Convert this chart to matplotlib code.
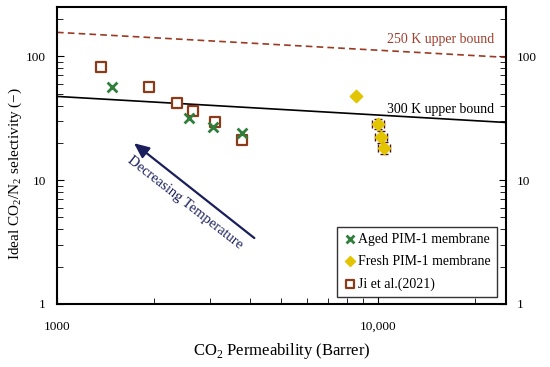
import matplotlib
matplotlib.use("Agg")
import matplotlib.pyplot as plt
from matplotlib.ticker import LogLocator, FixedLocator, NullFormatter, FuncFormatter

plt.rcParams['font.family'] = ['Liberation Serif', 'DejaVu Serif']
plt.rcParams['mathtext.fontset'] = 'custom'
plt.rcParams['mathtext.rm'] = 'Liberation Serif'

# Data
aged_x = [1482, 2571, 3051, 3756]
aged_y = [56, 32, 26.6, 23.8]

fresh_x = [8550, 9980, 10200, 10440]
fresh_y = [47.4, 28.6, 22.5, 18.3]
fresh_xerr = [0, 420, 420, 420]
fresh_yerr = [0, 2.6, 2.4, 2.0]

ji_x = [1370, 1931, 2360, 2643, 3115, 3756]
ji_y = [81.5, 56, 41.6, 35.9, 29.3, 20.9]

bound_x = [1000, 25000]
bound_300 = [47.4, 29.2]
bound_250 = [156, 98]

arrow_tail = (4180, 3.3)
arrow_head = (1710, 20.5)

fig = plt.figure(figsize=(5.5, 3.67), dpi=100)
ax = fig.add_axes([0.1036, 0.1717, 0.8164, 0.8093])
ax.set_xscale('log')
ax.set_yscale('log')
ax.set_xlim(1000, 25000)
ax.set_ylim(1, 250)

ax.plot(bound_x, bound_250, linestyle=(0, (4, 2.5)), color='#9b3a22', lw=1.2)
ax.plot(bound_x, bound_300, color='black', lw=1.2)
ax.text(23000, 136, '250 K upper bound', color='#a0402e', fontsize=10, ha='right', va='center')
ax.text(23000, 37.5, '300 K upper bound', color='black', fontsize=10, ha='right', va='center')

ax.errorbar(fresh_x, fresh_y, xerr=fresh_xerr, yerr=fresh_yerr, fmt='none',
            ecolor='#4a1010', elinewidth=1.0, capsize=3, capthick=1.0, zorder=2)
ax.scatter(fresh_x, fresh_y, marker='D', s=40, color='#e2c400', zorder=3,
           label='Fresh PIM-1 membrane')
ax.scatter(ji_x, ji_y, marker='s', s=50, facecolor='white', edgecolor='#8b3a1a',
           linewidths=1.6, zorder=4, label='Ji et al.(2021)')
ax.scatter(aged_x, aged_y, marker='x', s=50, color='#2f7f3a', linewidths=2.0,
           zorder=5, label='Aged PIM-1 membrane')

ax.annotate('', xy=arrow_head, xytext=arrow_tail,
            arrowprops=dict(arrowstyle='-|>,head_length=0.9,head_width=0.4',
                            color='#1a1f5c', lw=1.6))
ax.text(2497, 6.6, 'Decreasing Temperature', color='#1a1f5c', fontsize=10.5,
        rotation=-38, ha='center', va='center', rotation_mode='anchor')

handles, labels = ax.get_legend_handles_labels()
order = [labels.index('Aged PIM-1 membrane'), labels.index('Fresh PIM-1 membrane'),
         labels.index('Ji et al.(2021)')]
leg = ax.legend([handles[i] for i in order], [labels[i] for i in order],
                loc='lower right', bbox_to_anchor=(0.98, 0.024), borderaxespad=0,
                fontsize=10, frameon=True, fancybox=False, edgecolor='black',
                handletextpad=0.1, handlelength=1.0, borderpad=0.45,
                labelspacing=0.65, markerscale=0.8)
leg.get_frame().set_linewidth(1.0)

ax.set_xlabel('CO$_2$ Permeability (Barrer)', fontsize=12)
ax.xaxis.set_label_coords(0.5, -0.125)
ax.set_ylabel('Ideal CO$_2$/N$_2$ selectivity (−)', fontsize=11)
ax.yaxis.set_label_coords(-0.074, 0.44)

ax.xaxis.set_major_locator(FixedLocator([1000, 10000]))
ax.xaxis.set_major_formatter(FuncFormatter(lambda v, p: '{:,.0f}'.format(v) if v >= 10000 else '{:.0f}'.format(v)))
ax.xaxis.set_minor_locator(LogLocator(base=10, subs=range(2, 10)))
ax.xaxis.set_minor_formatter(NullFormatter())
ax.yaxis.set_major_locator(FixedLocator([1, 10, 100]))
ax.yaxis.set_major_formatter(FuncFormatter(lambda v, p: '{:.0f}'.format(v)))
ax.yaxis.set_minor_locator(LogLocator(base=10, subs=range(2, 10)))
ax.yaxis.set_minor_formatter(NullFormatter())

ax.tick_params(axis='both', which='both', direction='in', labelsize=9.5)
ax.tick_params(axis='x', which='major', length=5, pad=12, top=False)
ax.tick_params(axis='x', which='minor', length=4, top=False)
ax.tick_params(axis='y', which='major', length=5, right=True, labelright=True, pad=8)
ax.tick_params(axis='y', which='minor', length=4, right=True)

for s in ax.spines.values():
    s.set_linewidth(1.5)

fig.savefig('out.png', dpi=100)
